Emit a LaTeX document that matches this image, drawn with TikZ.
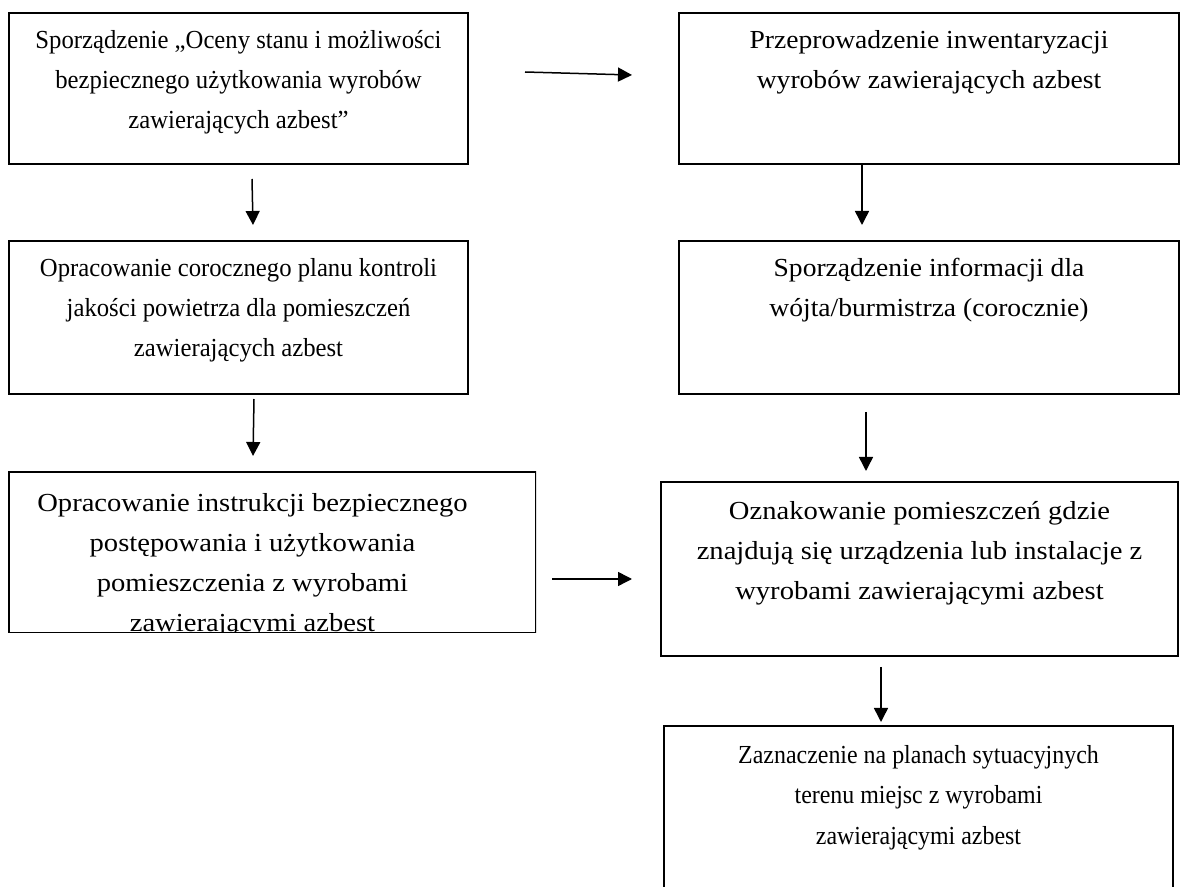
\documentclass[tikz,border=0pt]{standalone}
\usepackage{fontspec}
\setmainfont{Liberation Serif}
\newfontfamily\waski{Liberation Serif}[FakeStretch=0.95]
\newfontfamily\najwezszy{Liberation Serif}[FakeStretch=0.92]
\newfontfamily\szeroki{Liberation Serif}[FakeStretch=1.06]
\newfontfamily\bardzoszeroki{Liberation Serif}[FakeStretch=1.10]
\usetikzlibrary{arrows.meta,calc}

\newcommand{\rozmiar}{\fontsize{13}{20}\selectfont}
\newcommand{\tresc}[4][18pt]{\parbox[t][#3][t]{#2}{\centering\rule{0pt}{#1}#4}}

\begin{document}
\begin{tikzpicture}[x=0.5pt,y=-0.5pt,
        ramka/.style={draw, line width=1pt, anchor=north west, inner sep=0pt},
        strzalka/.style={line width=0.75pt, -{Triangle[length=7pt,width=7pt]}}]
                \useasboundingbox (0,0) rectangle (1185,887);
                \clip (0,0) rectangle (1185,887);

                % Ocena stanu
                \node[ramka, font=\waski\rozmiar] (ocena) at (8,12) {\tresc{229.5pt}{75.5pt}{Sporządzenie „Oceny stanu i możliwości\\ bezpiecznego użytkowania wyrobów\\ zawierających azbest”}};

                % Inwentaryzacja
                \node[ramka, font=\szeroki\rozmiar] (inwent) at (678,12) {\tresc{250pt}{75.5pt}{Przeprowadzenie inwentaryzacji\\ wyrobów zawierających azbest}};

                % Plan kontroli
                \node[ramka, font=\waski\rozmiar] (plan) at (8,240) {\tresc{229.5pt}{76.5pt}{Opracowanie corocznego planu kontroli\\ jakości powietrza dla pomieszczeń\\ zawierających azbest}};

                % Informacja
                \node[ramka, font=\szeroki\rozmiar] (info) at (678,240) {\tresc{250pt}{76.5pt}{Sporządzenie informacji dla\\ wójta/burmistrza (corocznie)}};

                % Instrukcja (tekst uciety dolna krawedzia)
                \begin{scope}
                    \clip (7,470) rectangle (536,633);
                    \node[ramka, font=\bardzoszeroki\rozmiar] (instr) at (8,471) {\parbox[t][80.5pt][t]{263.5pt}{\centering\rightskip=20pt plus 1fil\rule{0pt}{20pt}Opracowanie instrukcji bezpiecznego\\ postępowania i użytkowania\\ pomieszczenia z wyrobami\\ zawierającymi azbest}};
                \end{scope}

                % Oznakowanie
                \node[ramka, font=\bardzoszeroki\rozmiar] (oznak) at (660,481) {\tresc[19pt]{258.5pt}{87pt}{Oznakowanie pomieszczeń gdzie\\ znajdują się urządzenia lub instalacje z\\ wyrobami zawierającymi azbest}};

                % Plany sytuacyjne
                \node[ramka, font=\najwezszy\rozmiar] (zazn) at (663,725) {\tresc[19pt]{254.5pt}{90pt}{Zaznaczenie na planach sytuacyjnych\\ terenu miejsc z wyrobami\\ zawierającymi azbest}};

                % Connections
                \draw[strzalka] ($(ocena.east)+(56,-16.5)$) -- ($(inwent.west)+(-46,-13.5)$);
                \draw[strzalka] ($(ocena.south)+(13.5,14)$) -- ($(plan.north)+(14.5,-15)$);
                \draw[strzalka] ($(inwent.south)+(-67,0)$) -- ($(info.north)+(-67,-15)$);
                \draw[strzalka] ($(plan.south)+(15.5,4)$) -- ($(instr.north)+(-19.5,-15)$);
                \draw[strzalka] ($(info.south)+(-63,17)$) -- ($(oznak.north)+(-53.5,-10)$);
                \draw[strzalka] ($(instr.east)+(15,26.5)$) -- ($(oznak.west)+(-28,10)$);
                \draw[strzalka] ($(oznak.south)+(-38.5,10)$) -- ($(zazn.north)+(-37.5,-3)$);
            \end{tikzpicture}
\end{document}
